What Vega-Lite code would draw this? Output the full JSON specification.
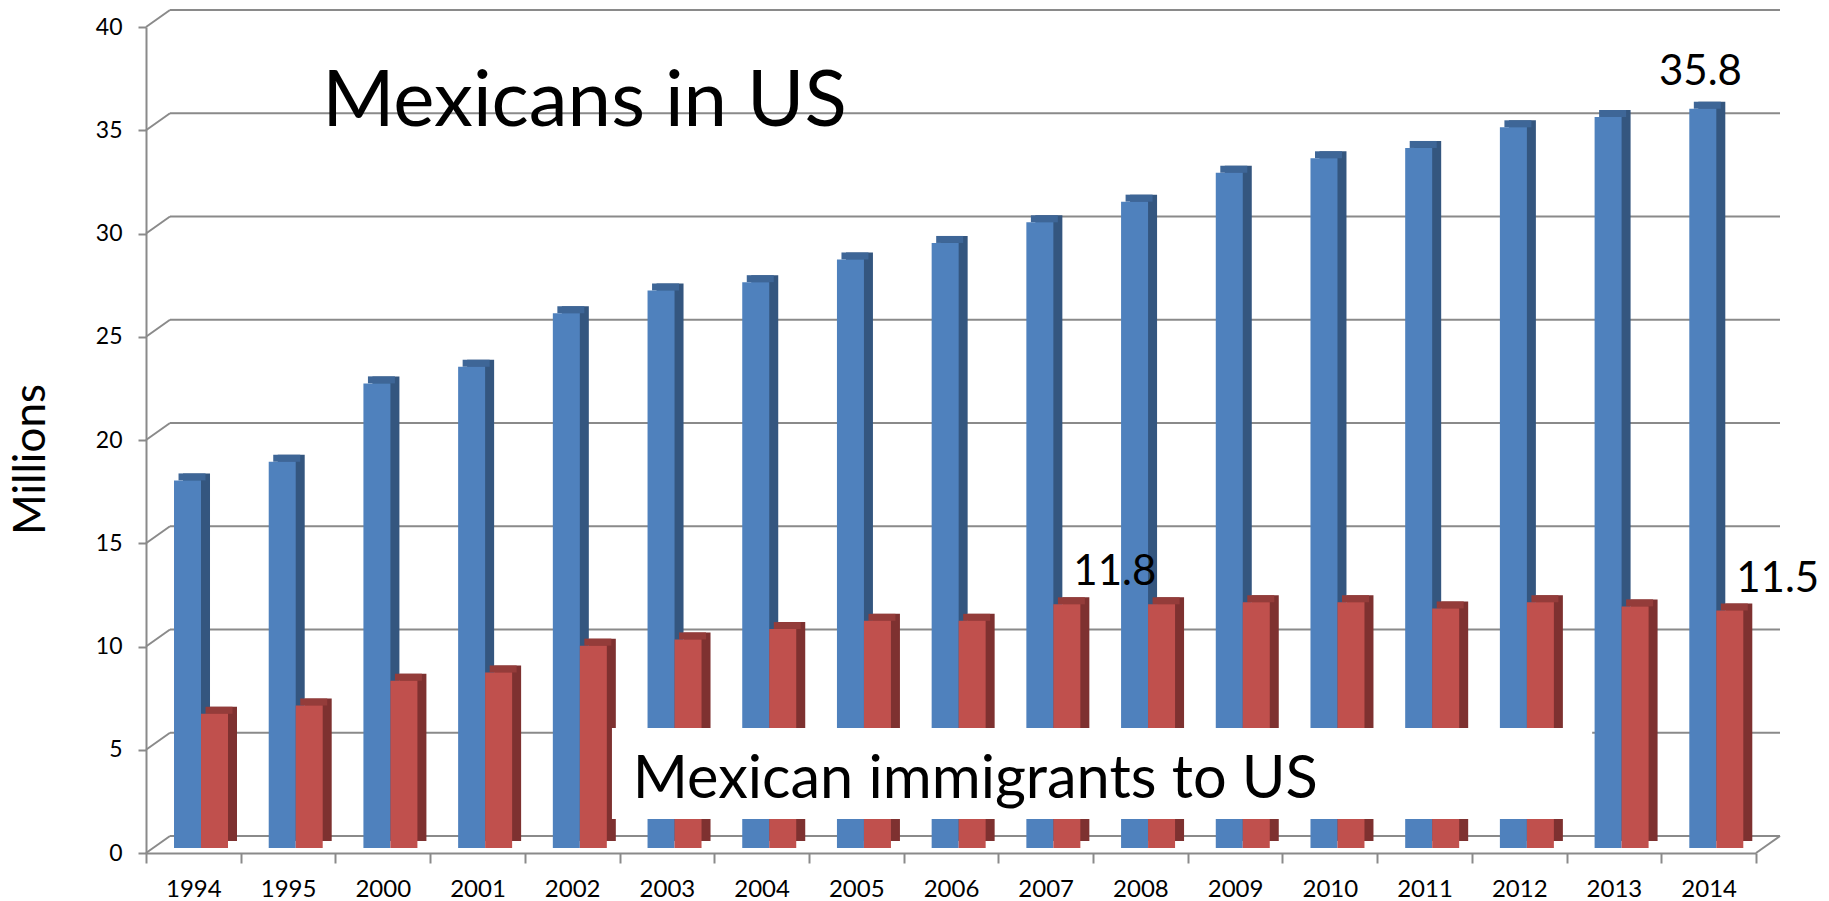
{
  "$schema": "https://vega.github.io/schema/vega-lite/v6.json",
  "width": 1610,
  "height": 826,
  "autosize": {"type": "none"},
  "padding": {"left": 146, "top": 27, "right": 73, "bottom": 48},
  "background": "white",
  "config": {"view": {"stroke": null}, "font": "Lato"},
  "datasets": {
    "mex": [
      {"year": "1994", "series": "Mexicans in US", "value": 17.8},
      {"year": "1994", "series": "Mexican immigrants to US", "value": 6.5},
      {"year": "1995", "series": "Mexicans in US", "value": 18.7},
      {"year": "1995", "series": "Mexican immigrants to US", "value": 6.9},
      {"year": "2000", "series": "Mexicans in US", "value": 22.5},
      {"year": "2000", "series": "Mexican immigrants to US", "value": 8.1},
      {"year": "2001", "series": "Mexicans in US", "value": 23.3},
      {"year": "2001", "series": "Mexican immigrants to US", "value": 8.5},
      {"year": "2002", "series": "Mexicans in US", "value": 25.9},
      {"year": "2002", "series": "Mexican immigrants to US", "value": 9.8},
      {"year": "2003", "series": "Mexicans in US", "value": 27.0},
      {"year": "2003", "series": "Mexican immigrants to US", "value": 10.1},
      {"year": "2004", "series": "Mexicans in US", "value": 27.4},
      {"year": "2004", "series": "Mexican immigrants to US", "value": 10.6},
      {"year": "2005", "series": "Mexicans in US", "value": 28.5},
      {"year": "2005", "series": "Mexican immigrants to US", "value": 11.0},
      {"year": "2006", "series": "Mexicans in US", "value": 29.3},
      {"year": "2006", "series": "Mexican immigrants to US", "value": 11.0},
      {"year": "2007", "series": "Mexicans in US", "value": 30.3},
      {"year": "2007", "series": "Mexican immigrants to US", "value": 11.8},
      {"year": "2008", "series": "Mexicans in US", "value": 31.3},
      {"year": "2008", "series": "Mexican immigrants to US", "value": 11.8},
      {"year": "2009", "series": "Mexicans in US", "value": 32.7},
      {"year": "2009", "series": "Mexican immigrants to US", "value": 11.9},
      {"year": "2010", "series": "Mexicans in US", "value": 33.4},
      {"year": "2010", "series": "Mexican immigrants to US", "value": 11.9},
      {"year": "2011", "series": "Mexicans in US", "value": 33.9},
      {"year": "2011", "series": "Mexican immigrants to US", "value": 11.6},
      {"year": "2012", "series": "Mexicans in US", "value": 34.9},
      {"year": "2012", "series": "Mexican immigrants to US", "value": 11.9},
      {"year": "2013", "series": "Mexicans in US", "value": 35.4},
      {"year": "2013", "series": "Mexican immigrants to US", "value": 11.7},
      {"year": "2014", "series": "Mexicans in US", "value": 35.8},
      {"year": "2014", "series": "Mexican immigrants to US", "value": 11.5}
    ],
    "grid": [{"v": 0}, {"v": 5}, {"v": 10}, {"v": 15}, {"v": 20}, {"v": 25}, {"v": 30}, {"v": 35}, {"v": 40}],
    "note": [{}]
  },
  "resolve": {"scale": {"xOffset": "independent"}},
  "layer": [
    {
      "data": {"name": "mex"},
      "mark": {"type": "bar", "yOffset": -5, "y2Offset": -5},
      "encoding": {
        "x": {
          "field": "year", "type": "nominal", "title": null,
          "scale": {"domain": ["1994","1995","2000","2001","2002","2003","2004","2005","2006","2007","2008","2009","2010","2011","2012","2013","2014"], "paddingInner": 0, "paddingOuter": 0},
          "axis": {"labelAngle": 0, "bandPosition": 0.5, "labelFont": "Lato", "labelFontSize": 24, "labelColor": "#000000", "labelPadding": 14, "labelBaseline": "top", "tickBand": "extent", "tickSize": 10, "tickColor": "#8a8a8a", "tickWidth": 2, "domainColor": "#8a8a8a", "domainWidth": 2, "grid": false}
        },
        "xOffset": {
          "field": "series", "type": "nominal",
          "scale": {"domain": ["Mexicans in US", "Mexican immigrants to US"], "paddingInner": 0, "paddingOuter": 0.754, "align": 0.688}
        },
        "y": {
          "field": "value", "type": "quantitative",
          "scale": {"domain": [0, 40], "nice": false, "zero": true},
          "axis": {"title": "Millions", "values": [0,5,10,15,20,25,30,35,40], "grid": false, "labelFont": "Lato", "labelFontSize": 23, "labelColor": "#000000", "labelPadding": 16, "tickSize": 8, "tickColor": "#8a8a8a", "tickWidth": 2, "domainColor": "#8a8a8a", "domainWidth": 2, "titleFont": "Lato", "titleFontSize": 44, "titleFontWeight": "normal", "titleColor": "#000000", "titleAngle": 270, "titleX": -115, "titleY": 432, "titleAlign": "center", "titleBaseline": "middle"}
        },
        "color": {"value": "#ffffff"}
      }
    },
    {
      "data": {"name": "grid"},
      "mark": {"type": "rule", "color": "#8a8a8a", "strokeWidth": 2, "xOffset": 24, "x2Offset": 24, "yOffset": -17},
      "encoding": {
        "x": {"datum": "1994", "bandPosition": 0, "type": "nominal"},
        "x2": {"datum": "2014", "bandPosition": 1},
        "y": {"field": "v", "type": "quantitative"}
      }
    },
    {
      "data": {"name": "grid"},
      "mark": {"type": "rule", "color": "#8a8a8a", "strokeWidth": 2, "x2Offset": 24, "y2Offset": -17},
      "encoding": {
        "x": {"datum": "1994", "bandPosition": 0, "type": "nominal"},
        "x2": {"datum": "1994", "bandPosition": 0},
        "y": {"field": "v", "type": "quantitative"},
        "y2": {"field": "v"}
      }
    },
    {
      "data": {"name": "grid"},
      "transform": [{"filter": "datum.v == 0"}],
      "mark": {"type": "rule", "color": "#8a8a8a", "strokeWidth": 2, "x2Offset": 24, "y2Offset": -17},
      "encoding": {
        "x": {"datum": "2014", "bandPosition": 1, "type": "nominal"},
        "x2": {"datum": "2014", "bandPosition": 1},
        "y": {"field": "v", "type": "quantitative"},
        "y2": {"field": "v"}
      }
    },
    {
      "data": {"name": "mex"},
      "mark": {"type": "bar", "yOffset": -12, "y2Offset": -8},
      "encoding": {
        "x": {"field": "year", "type": "nominal"},
        "xOffset": {
          "field": "series", "type": "nominal",
          "scale": {"domain": ["Mexicans in US", "Mexican immigrants to US"], "paddingInner": 0, "paddingOuter": 0.754, "align": 0.909}
        },
        "y": {"field": "value", "type": "quantitative"},
        "fill": {"condition": {"test": "datum.series == 'Mexicans in US'", "value": "#34567f"}, "value": "#7e3130"}
      }
    },
    {
      "data": {"name": "mex"},
      "mark": {"type": "bar", "yOffset": -12, "y2Offset": -5},
      "encoding": {
        "x": {"field": "year", "type": "nominal"},
        "xOffset": {
          "field": "series", "type": "nominal",
          "scale": {"domain": ["Mexicans in US", "Mexican immigrants to US"], "paddingInner": 0, "paddingOuter": 0.754, "align": 0.799}
        },
        "y": {"field": "value", "type": "quantitative"},
        "y2": {"field": "value"},
        "fill": {"condition": {"test": "datum.series == 'Mexicans in US'", "value": "#3e6697"}, "value": "#943c3a"}
      }
    },
    {
      "data": {"name": "mex"},
      "mark": {"type": "bar", "yOffset": -5, "y2Offset": -5},
      "encoding": {
        "x": {"field": "year", "type": "nominal"},
        "xOffset": {
          "field": "series", "type": "nominal",
          "scale": {"domain": ["Mexicans in US", "Mexican immigrants to US"], "paddingInner": 0, "paddingOuter": 0.754, "align": 0.688}
        },
        "y": {"field": "value", "type": "quantitative"},
        "color": {
          "field": "series", "type": "nominal", "legend": null,
          "scale": {"domain": ["Mexicans in US", "Mexican immigrants to US"], "range": ["#4f81bd", "#c0504d"]}
        }
      }
    },
    {
      "data": {"name": "mex"},
      "transform": [{"filter": "datum.year == '2014' && datum.series == 'Mexicans in US'"}],
      "mark": {"type": "text", "font": "Lato", "fontSize": 42, "color": "#000000", "align": "center", "baseline": "alphabetic", "dy": -29},
      "encoding": {
        "x": {"field": "year", "type": "nominal"},
        "xOffset": {
          "field": "series", "type": "nominal",
          "scale": {"domain": ["Mexicans in US", "Mexican immigrants to US"], "paddingInner": 0, "paddingOuter": 0.754, "align": 0.688}
        },
        "y": {"field": "value", "type": "quantitative"},
        "text": {"field": "value", "type": "quantitative", "format": ".1f"}
      }
    },
    {
      "data": {"name": "mex"},
      "transform": [{"filter": "(datum.year == '2007' || datum.year == '2014') && datum.series == 'Mexican immigrants to US'"}],
      "mark": {"type": "text", "font": "Lato", "fontSize": 42, "color": "#000000", "align": "left", "baseline": "alphabetic", "dx": -2, "dy": -24},
      "encoding": {
        "x": {"field": "year", "type": "nominal"},
        "xOffset": {
          "field": "series", "type": "nominal",
          "scale": {"domain": ["Mexicans in US", "Mexican immigrants to US"], "paddingInner": 0, "paddingOuter": 0.754, "align": 0.688}
        },
        "y": {"field": "value", "type": "quantitative"},
        "text": {"field": "value", "type": "quantitative", "format": ".1f"}
      }
    },
    {
      "data": {"name": "note"},
      "mark": {"type": "text", "font": "Lato", "fontSize": 78, "color": "#000000", "align": "left", "baseline": "alphabetic"},
      "encoding": {
        "x": {"datum": "1995", "bandPosition": 0.86, "type": "nominal"},
        "y": {"datum": 35.2, "type": "quantitative"},
        "text": {"value": "Mexicans in US"}
      }
    },
    {
      "data": {"name": "note"},
      "mark": {"type": "rect", "color": "#ffffff"},
      "encoding": {
        "x": {"datum": "2002", "bandPosition": 0.92, "type": "nominal"},
        "x2": {"datum": "2013", "bandPosition": 0.27},
        "y": {"datum": 6.05, "type": "quantitative"},
        "y2": {"datum": 1.65}
      }
    },
    {
      "data": {"name": "note"},
      "mark": {"type": "text", "font": "Lato", "fontSize": 59.5, "color": "#000000", "align": "left", "baseline": "alphabetic"},
      "encoding": {
        "x": {"datum": "2003", "bandPosition": 0.14, "type": "nominal"},
        "y": {"datum": 2.66, "type": "quantitative"},
        "text": {"value": "Mexican immigrants to US"}
      }
    }
  ]
}
